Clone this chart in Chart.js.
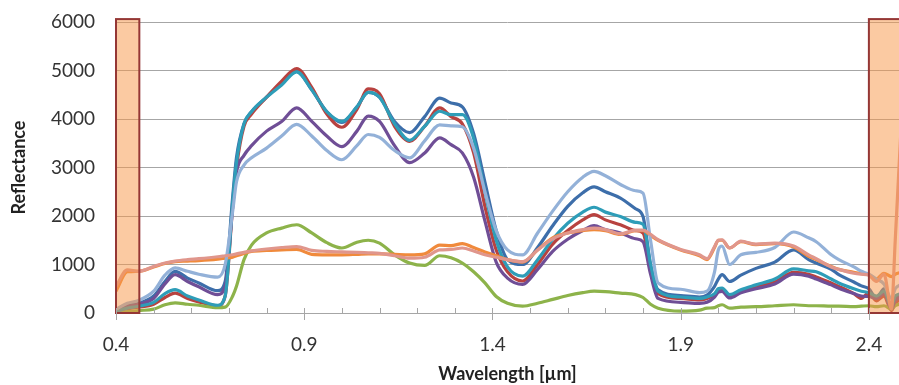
<!DOCTYPE html>
<html>
<head>
<meta charset="utf-8">
<script src="https://cdn.jsdelivr.net/npm/chart.js@4.4.1/dist/chart.umd.min.js"></script>
<style>
    body { margin: 0; background: #fff; }
    #wrap { width: 899px; height: 385px; position: relative; }
</style>
</head>
<body>
<div id="wrap"><canvas id="spectra"></canvas></div>
<script>
// wavelength samples in µm, shared by every spectrum
const wavelength = [0.40, 0.43, 0.46, 0.50, 0.53, 0.557, 0.59, 0.62, 0.67,
    0.69, 0.71, 0.72, 0.74, 0.76, 0.80, 0.84, 0.88, 0.92, 0.96,
    1.00, 1.04, 1.07, 1.10, 1.14, 1.18, 1.22, 1.26, 1.29, 1.32,
    1.35, 1.38, 1.41, 1.44, 1.48, 1.52, 1.56, 1.60, 1.64, 1.67,
    1.70, 1.74, 1.78, 1.80, 1.82, 1.84, 1.90, 1.95, 1.97, 1.99,
    2.00, 2.01, 2.03, 2.06, 2.10, 2.15, 2.20, 2.24, 2.26, 2.30,
    2.32, 2.36, 2.38, 2.40, 2.42, 2.44, 2.46, 2.47, 2.49];

const darkBlue = [60, 150, 200, 350, 650, 860, 720, 620, 460,
    650, 2400, 3200, 3900, 4150, 4450, 4750, 4980, 4600, 4150,
    3930, 4250, 4550, 4450, 3950, 3720, 4050, 4430, 4330, 4250,
    3700, 2700, 1700, 1100, 1000, 1350, 1800, 2200, 2480, 2600,
    2500, 2370, 2150, 1990, 1000, 480, 360, 330, 370, 550,
    700, 790, 650, 780, 920, 1050, 1300, 1100, 1030, 900,
    790, 640, 560, 500, 300, 500, 100, 300, 400];

const red = [40, 90, 120, 180, 320, 410, 300, 230, 150,
    350, 2200, 3000, 3850, 4100, 4450, 4780, 5040, 4650, 4100,
    3830, 4200, 4620, 4520, 3850, 3540, 3850, 4230, 4050, 3900,
    3300, 2200, 1300, 850, 660, 1000, 1420, 1700, 1920, 2030,
    1920, 1820, 1700, 1650, 900, 400, 300, 270, 300, 380,
    470, 480, 340, 450, 540, 640, 840, 800, 740, 620,
    550, 400, 300, 420, 250, 350, 50, 200, 300];

const green = [10, 30, 50, 80, 170, 210, 180, 160, 110,
    120, 350, 550, 1100, 1400, 1650, 1750, 1820, 1650, 1450,
    1340, 1460, 1500, 1440, 1200, 1030, 980, 1180, 1140, 1030,
    850, 620, 340, 200, 140, 200, 280, 360, 420, 450,
    440, 410, 380, 320, 180, 100, 40, 60, 100, 110,
    150, 170, 100, 120, 130, 150, 170, 150, 150, 140,
    140, 130, 140, 150, 130, 150, 80, 150, 200];

const purple = [50, 130, 180, 300, 600, 790, 650, 540, 380,
    550, 2200, 2900, 3250, 3450, 3750, 3950, 4230, 3950, 3650,
    3430, 3750, 4060, 3950, 3450, 3100, 3300, 3610, 3470, 3300,
    2800, 1900, 1050, 720, 590, 900, 1270, 1520, 1700, 1800,
    1720, 1650, 1530, 1470, 800, 300, 220, 200, 220, 330,
    430, 445, 310, 420, 500, 600, 800, 760, 700, 580,
    510, 400, 350, 340, 300, 400, 80, 250, 350];

const teal = [30, 100, 140, 220, 400, 480, 350, 270, 160,
    350, 2300, 3100, 3900, 4150, 4450, 4700, 4970, 4600, 4150,
    3950, 4250, 4550, 4450, 3900, 3560, 3850, 4160, 4090, 4090,
    3600, 2500, 1500, 950, 760, 1100, 1520, 1850, 2080, 2180,
    2080, 1990, 1870, 1830, 1000, 450, 330, 300, 330, 400,
    500, 515, 380, 480, 580, 700, 910, 870, 850, 700,
    620, 500, 450, 420, 350, 450, 150, 350, 400];

const orange = [450, 850, 860, 950, 1020, 1060, 1070, 1080, 1110,
    1130, 1150, 1180, 1230, 1270, 1290, 1300, 1310, 1210, 1200,
    1200, 1210, 1220, 1220, 1210, 1200, 1220, 1400, 1390, 1430,
    1350, 1260, 1180, 1100, 1050, 1300, 1550, 1650, 1700, 1720,
    1700, 1620, 1700, 1700, 1600, 1500, 1300, 1180, 1100, 1350,
    1500, 1500, 1340, 1470, 1410, 1430, 1360, 1170, 1100, 960,
    900, 840, 810, 790, 700, 820, 750, 800, 850];

const lightBlue = [80, 200, 260, 450, 780, 930, 860, 800, 740,
    1000, 2100, 2700, 3050, 3200, 3400, 3650, 3890, 3650, 3350,
    3160, 3450, 3680, 3620, 3350, 3200, 3550, 3880, 3860, 3840,
    3400, 2500, 1700, 1300, 1200, 1650, 2100, 2500, 2800, 2920,
    2830, 2650, 2520, 2470, 1500, 620, 490, 420, 450, 850,
    1300, 1380, 1000, 1200, 1250, 1350, 1670, 1550, 1470, 1200,
    1100, 950, 860, 800, 700, 600, 300, 500, 600];

const salmon = [550, 890, 860, 960, 1030, 1070, 1100, 1120, 1160,
    1180, 1200, 1220, 1250, 1280, 1320, 1350, 1370, 1290, 1270,
    1260, 1250, 1240, 1230, 1180, 1130, 1150, 1300, 1310, 1340,
    1280, 1200, 1150, 1100, 1060, 1300, 1530, 1650, 1720, 1750,
    1720, 1630, 1710, 1710, 1620, 1510, 1310, 1200, 1120, 1370,
    1500, 1510, 1340, 1480, 1420, 1440, 1380, 1200, 1120, 950,
    900, 820, 800, 780, 650, 800, 80, 1500, 4500];

const seriesValues = [darkBlue, red, green, purple, teal, orange, lightBlue, salmon];
const seriesColors = ['#3D6EAA', '#B8423F', '#8DB34A', '#6F4E96', '#2E9DB8', '#F08A3C', '#93B1D8', '#E0968C'];

// wavelength ranges marked as noisy bands
const bands = [[0.4, 0.462], [2.4, 2.56]];
const bandTop = 6060;

const xTickLabels = ['0.4', '0.9', '1.4', '1.9', '2.4'];

function toPoints(values) {
    return values.map((v, i) => ({ x: wavelength[i], y: v }));
}

// shaded boxes sit on top of the spectra, half transparent
const bandPlugin = {
    id: 'bands',
    afterDatasetsDraw(chart) {
        const ctx = chart.ctx;
        const x = chart.scales.x;
        const y = chart.scales.y;
        ctx.save();
        bands.forEach(band => {
            const left = x.getPixelForValue(band[0]);
            const right = x.getPixelForValue(band[1]);
            const top = y.getPixelForValue(bandTop);
            const bottom = y.getPixelForValue(0);
            ctx.fillStyle = 'rgba(247, 150, 70, 0.5)';
            ctx.fillRect(left, top, right - left, bottom - top);
            ctx.strokeStyle = '#953735';
            ctx.lineWidth = 2;
            ctx.strokeRect(left, top, right - left, bottom - top);
        });
        ctx.restore();
    }
};

// Excel style tick marks: major ones cross the axis, minor ones stay inside
const tickMarkPlugin = {
    id: 'tickMarks',
    afterDraw(chart) {
        const ctx = chart.ctx;
        const x = chart.scales.x;
        const base = chart.chartArea.bottom;
        ctx.save();
        ctx.strokeStyle = '#A6A6A6';
        ctx.lineWidth = 1;
        x.ticks.forEach(t => {
            const px = Math.round(x.getPixelForValue(t.value)) + 0.5;
            const major = xTickLabels.includes(t.value.toFixed(1));
            ctx.beginPath();
            ctx.moveTo(px, base - 5);
            ctx.lineTo(px, major ? base + 7 : base);
            ctx.stroke();
        });
        ctx.restore();
    }
};

function drawSpectraChart() {
    const datasets = seriesValues.map((values, i) => ({
        data: toPoints(values),
        borderColor: seriesColors[i],
        backgroundColor: seriesColors[i],
        borderWidth: 3.2,
        pointRadius: 0,
        cubicInterpolationMode: 'monotone',
        order: seriesValues.length - i
    }));

    const config = {
        type: 'line',
        data: { datasets: datasets },
        plugins: [bandPlugin, tickMarkPlugin],
        options: {
            responsive: true,
            maintainAspectRatio: false,
            animation: false,
            layout: { padding: { top: 22, right: 0, bottom: 0, left: 0 } },
            plugins: {
                legend: { display: false },
                tooltip: { enabled: false }
            },
            scales: {
                x: {
                    type: 'linear',
                    min: 0.4,
                    max: 2.48,
                    afterFit: s => { s.height = 72; s.paddingLeft = 0; s.paddingRight = 0; },
                    grid: { display: false, drawTicks: false },
                    border: { display: true, color: '#A6A6A6', width: 1 },
                    ticks: {
                        stepSize: 0.1,
                        includeBounds: false,
                        autoSkip: false,
                        maxRotation: 0,
                        padding: 20,
                        color: '#333',
                        font: { family: 'Lato', size: 19 },
                        callback: v => {
                            const label = Number(v).toFixed(1);
                            return xTickLabels.includes(label) ? label : '';
                        }
                    },
                    title: {
                        display: true,
                        text: 'Wavelength [µm]',
                        color: '#222',
                        font: { family: 'Lato', size: 18, weight: 'bold' },
                        padding: { top: 0, bottom: 0 }
                    }
                },
                y: {
                    min: 0,
                    max: 6000,
                    afterFit: s => { s.width = 116; s.paddingTop = 0; s.paddingBottom = 0; },
                    grid: { color: '#A6A6A6', drawTicks: false },
                    border: { display: false },
                    ticks: {
                        stepSize: 1000,
                        padding: 21,
                        color: '#333',
                        font: { family: 'Lato', size: 19 },
                        callback: v => String(v)
                    },
                    title: {
                        display: true,
                        text: 'Reflectance',
                        color: '#222',
                        font: { family: 'Lato', size: 18, weight: 'bold' },
                        padding: { top: 8, bottom: 0 }
                    }
                }
            }
        }
    };

    new Chart(document.getElementById('spectra'), config);
}

drawSpectraChart();
</script>
</body>
</html>
